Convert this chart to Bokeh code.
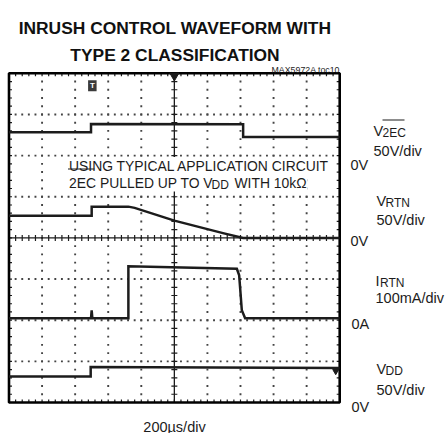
import numpy as np
from bokeh.plotting import figure
from bokeh.models import Range1d
from bokeh.core.properties import value
from bokeh.embed import file_html
from bokeh.resources import INLINE

# ---------------- data (screen divisions: 10 x 8) ----------------
# time axis: 200us/div
t_v2ec = [0.0, 2.48, 2.48, 7.08, 7.08, 10.0]
y_v2ec = [6.57, 6.57, 6.77, 6.76, 6.45, 6.45]

t_vrtn = [0.0, 2.50, 2.50, 3.61, 3.80, 5.00, 6.50, 7.08, 10.0]
y_vrtn = [4.54, 4.54, 4.76, 4.76, 4.73, 4.42, 4.11, 4.00, 4.00]

t_irtn = [0.0, 2.48, 2.50, 2.52, 3.61, 3.61, 6.89, 6.96, 7.04, 7.14, 10.0]
y_irtn = [2.05, 2.05, 2.24, 2.05, 2.05, 3.31, 3.25, 3.09, 2.24, 2.05, 2.05]

t_vdd = [0.0, 2.47, 2.47, 10.0]
y_vdd = [0.63, 0.63, 0.86, 0.84]

title_lines = ["INRUSH CONTROL WAVEFORM WITH", "TYPE 2 CLASSIFICATION"]
note_id = "MAX5972A toc10"
time_scale = "200\u00b5s/div"

# ---------------- geometry ----------------
W, H = 446, 433
PXX, PXY = 33.07, 41.15       # pixels per division
X0_IMG, Y0_IMG = 8.5, 402.0   # image position of division (0,0)

def fx(xi):
    return (xi - X0_IMG) / PXX

def fy(yi):
    return (Y0_IMG - yi) / PXY

p = figure(width=W, height=H, x_range=Range1d(fx(0), fx(W)), y_range=Range1d(fy(H), fy(0)),
           output_backend="svg", toolbar_location=None, min_border=0,
           x_axis_location=None, y_axis_location=None)
p.grid.visible = False
p.outline_line_color = None
p.background_fill_color = "white"
p.border_fill_color = "white"

INK = "#1c1c1c"
FONT = "Liberation Sans"

# ---------------- graticule ----------------
minor_x = np.round(np.arange(0.2, 10.0, 0.2), 3)
minor_y = np.round(np.arange(0.2, 8.0, 0.2), 3)
gx, gy = [], []
for k in range(1, 10):
    if k == 5:
        continue
    for yy in minor_y:
        gx.append(k); gy.append(yy)
for j in range(1, 8):
    if j == 4:
        continue
    for xx in minor_x:
        gx.append(xx); gy.append(j)
p.scatter(gx, gy, marker="square", size=1.9, color="#444444", line_color=None)

# centre cross
p.segment(x0=[5, 0], y0=[0, 4], x1=[5, 10], y1=[8, 4], line_color=INK, line_width=1.3)
tl_x = 3.0 / PXX
tl_y = 3.0 / PXY
p.segment(x0=[5 - tl_x] * len(minor_y), y0=list(minor_y), x1=[5 + tl_x] * len(minor_y), y1=list(minor_y),
          line_color=INK, line_width=1.2)
p.segment(x0=list(minor_x), y0=[4 - tl_y] * len(minor_x), x1=list(minor_x), y1=[4 + tl_y] * len(minor_x),
          line_color=INK, line_width=1.2)
# ticks on frame edges
p.segment(x0=list(minor_x), y0=[8] * len(minor_x), x1=list(minor_x), y1=[8 - tl_y] * len(minor_x),
          line_color=INK, line_width=1.2)
p.segment(x0=list(minor_x), y0=[0] * len(minor_x), x1=list(minor_x), y1=[tl_y] * len(minor_x),
          line_color=INK, line_width=1.2)
p.segment(x0=[0] * len(minor_y), y0=list(minor_y), x1=[tl_x] * len(minor_y), y1=list(minor_y),
          line_color=INK, line_width=1.2)
p.segment(x0=[10] * len(minor_y), y0=list(minor_y), x1=[10 - tl_x] * len(minor_y), y1=list(minor_y),
          line_color=INK, line_width=1.2)

# frame
p.quad(left=[0], right=[10], bottom=[0], top=[8], fill_color=None, line_color="black", line_width=2.6)

# ---------------- traces ----------------
for t, y in [(t_v2ec, y_v2ec), (t_vrtn, y_vrtn), (t_irtn, y_irtn), (t_vdd, y_vdd)]:
    p.line(t, y, line_color=INK, line_width=2.5, line_join="miter")

# markers: trigger position, trigger level, ref marker
p.scatter([5.0], [8 - 2.5 / PXY], marker="inverted_triangle", size=9, color=INK)
p.rect([2.52], [7.70], width=8.5 / PXX, height=11 / PXY, fill_color="#3a3a3a", line_color=None)
p.text([2.52], [7.70], text=["T"], text_font=value(FONT), text_font_size="8px",
       text_font_style="bold", text_color="white", text_align="center", text_baseline="middle")
p.scatter([9.88], [0.76], marker="inverted_triangle", size=6, color=INK)

# ---------------- texts ----------------
def txt(xi, yi, s, size, font=FONT, style="normal", align="left", color=INK, bg=None):
    kw = {}
    if bg:
        kw = dict(background_fill_color=bg, padding=1)
    p.text(x=[fx(xi)], y=[fy(yi)], text=[s], text_font=value(font), text_font_size=f"{size}px",
           text_font_style=style, text_align=align, text_baseline="alphabetic", text_color=color, **kw)

def oline(x0i, x1i, yi):
    p.line([fx(x0i), fx(x1i)], [fy(yi), fy(yi)], line_color=INK, line_width=1.1)

# title
txt(174.5, 27.7, title_lines[0], 17.4, style="bold", align="center", color="#111111")
txt(174.5, 54.0, title_lines[1], 17.4, style="bold", align="center", color="#111111")
txt(339.5, 69.0, note_id, 8.8, align="right")

LS, SS, AS = 14.5, 12, 13.9
# V2EC
txt(373, 130, "V", LS)
txt(382, 132, "2EC", SS)
oline(382, 404, 119.5)
txt(373, 150, "50V/div", LS)
txt(350, 164, "0V", LS)
# VRTN
txt(376, 200, "V", LS)
txt(385, 202, "RTN", SS)
txt(376, 219, "50V/div", LS)
txt(350, 240, "0V", LS)
# IRTN
txt(375, 280, "I", LS)
txt(379.5, 282, "RTN", SS)
txt(375, 297, "100mA/div", LS)
txt(351, 323, "0A", LS)
# VDD
txt(376, 368, "V", LS)
txt(385, 370, "DD", SS)
txt(376, 389, "50V/div", LS)
txt(351, 406, "0V", LS)

# annotation inside the screen (on an opaque white box)
txt(67.5, 165.5, "USING TYPICAL APPLICATION CIRCUIT", AS, bg="white")
txt(67.5, 182.0, "2EC PULLED UP TO V   ", AS, bg="white")
txt(233, 182.0, "WITH 10k\u03a9", AS, bg="white")
oline(67.5, 94, 168.5)
txt(211, 184.5, "DD", SS)

# time scale
txt(174, 426, time_scale, LS, align="center")

open("out.html", "w").write(file_html(p, INLINE))
